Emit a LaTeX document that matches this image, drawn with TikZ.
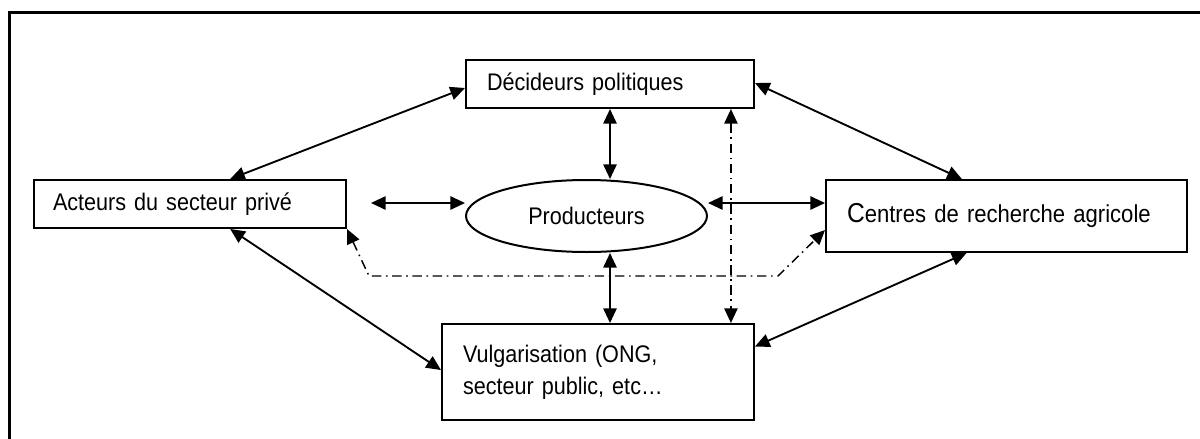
\documentclass[tikz,border=0pt]{standalone}
\usepackage{fontspec}
\setmainfont{Liberation Sans}[FakeStretch=0.9]
\usetikzlibrary{arrows.meta,calc,shapes.geometric}
\begin{document}
\begin{tikzpicture}[x=0.75pt,y=-0.75pt,
  font=\fontsize{18pt}{24pt}\selectfont,
  box/.style={draw,line width=1.5pt,rectangle,inner ysep=0pt,align=left},
  conn/.style={line width=1.4pt,{Triangle[length=11pt,width=10pt]}-{Triangle[length=11pt,width=10pt]}},
  dashdot/.style={line width=1.1pt,dash pattern=on 7pt off 3.5pt on 1.2pt off 3.5pt,{Triangle[length=11pt,width=10pt]}-{Triangle[length=11pt,width=10pt]}}]
\fill[white] (0,0) rectangle (1200,439);
\useasboundingbox (0,0) rectangle (1200,439);
% outer frame (only left and top sides are inside the picture)
\draw[line width=1.8pt] (9.6,439) -- (9.6,12.3) -- (1200,12.3);

\node[box, minimum width=216pt, minimum height=36pt, text width=184.5pt, inner xsep=15.75pt] (dec) at (610,84) {Décideurs politiques};
\node[box, minimum width=234pt, minimum height=36pt, text width=205.5pt, inner xsep=14.25pt] (act) at (190,204) {Acteurs du secteur privé};
\node[box, minimum width=270.75pt, minimum height=54pt, text width=239.25pt, inner xsep=15.75pt, font=\fontsize{18.4pt}{24pt}\selectfont] (cen) at (1006.5,216) {{\fontsize{20.5pt}{24pt}\selectfont C}entres de recherche agricole};
\node[box, minimum width=234pt, minimum height=72pt, text width=202.5pt, inner xsep=15.75pt] (vul) at (598,372) {Vulgarisation (ONG,\\secteur public, etc…};
\node[draw, ellipse, line width=1.5pt, minimum width=180.75pt, minimum height=54pt, inner sep=0pt] (prod) at (586.5,216) {Producteurs};

\coordinate (lft) at (371,203);
\coordinate (b1) at (369,276);
\coordinate (b2) at (778,276);

\draw[conn] ($(act.north west)!0.628!(act.north east)$) -- ($(dec.north west)!0.58!(dec.south west)$);
\draw[conn] ($(dec.north east)!0.48!(dec.south east)$) -- ($(cen.north west)!0.377!(cen.north east)$);
\draw[conn] (dec.south) -- (dec.south |- prod.north);
\draw[conn] (lft) -- (lft -| prod.west);
\draw[conn] (lft -| prod.east) -- (lft -| cen.west);
\draw[conn] (dec.south |- prod.south) -- (dec.south |- vul.north);
\draw[conn] ($(act.south west)!0.628!(act.south east)$) -- ($(vul.north west)!0.48!(vul.south west)$);
\draw[conn] ($(cen.south west)!0.39!(cen.south east)$) -- ($(vul.north east)!0.24!(vul.south east)$);
\coordinate (dd) at ($(dec.south west)!0.917!(dec.south east)$);
\draw[dashdot] (dd) -- (dd |- vul.north);
\draw[dashdot] (act.south east) -- (b1) -- (b2) -- ($(cen.north west)!0.69!(cen.south west)$);
\end{tikzpicture}
\end{document}
